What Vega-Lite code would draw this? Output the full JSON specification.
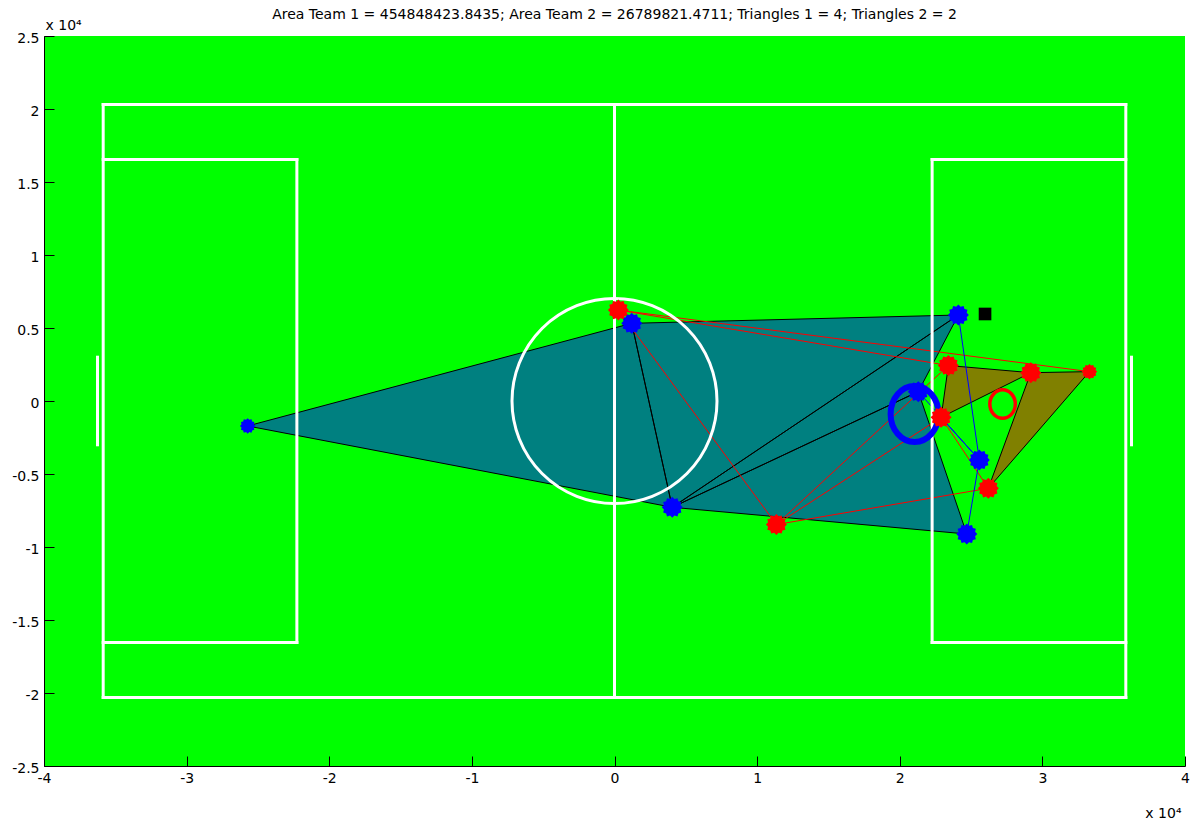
{
  "$schema": "https://vega.github.io/schema/vega-lite/v6.json",
  "width": 1141,
  "height": 730,
  "autosize": {"type": "none"},
  "padding": {"left": 44, "top": 36, "right": 5, "bottom": 58},
  "background": "#ffffff",
  "title": {
    "text": "Area Team 1 = 454848423.8435; Area Team 2 = 26789821.4711; Triangles 1 = 4; Triangles 2 = 2",
    "font": "DejaVu Sans",
    "fontSize": 14,
    "fontWeight": "normal",
    "color": "#000000",
    "anchor": "middle",
    "baseline": "alphabetic",
    "offset": -15
  },
  "datasets": {
    "players": [
      {"id": "B1", "team": "Team 1", "role": "keeper", "x": -25720, "y": -1710},
      {"id": "B2", "team": "Team 1", "role": "outfield", "x": 1210, "y": 5320},
      {"id": "B3", "team": "Team 1", "role": "outfield", "x": 4050, "y": -7280},
      {"id": "B4", "team": "Team 1", "role": "outfield", "x": 24110, "y": 5890},
      {"id": "B5", "team": "Team 1", "role": "outfield", "x": 21300, "y": 640},
      {"id": "B6", "team": "Team 1", "role": "outfield", "x": 25580, "y": -4040},
      {"id": "B7", "team": "Team 1", "role": "outfield", "x": 24700, "y": -9110},
      {"id": "R1", "team": "Team 2", "role": "outfield", "x": 270, "y": 6230},
      {"id": "R2", "team": "Team 2", "role": "outfield", "x": 11350, "y": -8460},
      {"id": "R3", "team": "Team 2", "role": "outfield", "x": 23410, "y": 2430},
      {"id": "R4", "team": "Team 2", "role": "outfield", "x": 22900, "y": -1120},
      {"id": "R5", "team": "Team 2", "role": "outfield", "x": 29190, "y": 1940},
      {"id": "R6", "team": "Team 2", "role": "keeper", "x": 33300, "y": 2010},
      {"id": "R7", "team": "Team 2", "role": "outfield", "x": 26210, "y": -5980}
    ],
    "triangles": [
      {"tri": "T1", "team": "Team 1", "k": 0, "id": "B1"},
      {"tri": "T1", "team": "Team 1", "k": 1, "id": "B2"},
      {"tri": "T1", "team": "Team 1", "k": 2, "id": "B3"},
      {"tri": "T2", "team": "Team 1", "k": 0, "id": "B2"},
      {"tri": "T2", "team": "Team 1", "k": 1, "id": "B4"},
      {"tri": "T2", "team": "Team 1", "k": 2, "id": "B3"},
      {"tri": "T3", "team": "Team 1", "k": 0, "id": "B3"},
      {"tri": "T3", "team": "Team 1", "k": 1, "id": "B4"},
      {"tri": "T3", "team": "Team 1", "k": 2, "id": "B5"},
      {"tri": "T4", "team": "Team 1", "k": 0, "id": "B3"},
      {"tri": "T4", "team": "Team 1", "k": 1, "id": "B5"},
      {"tri": "T4", "team": "Team 1", "k": 2, "id": "B7"},
      {"tri": "U1", "team": "Team 2", "k": 0, "id": "R3"},
      {"tri": "U1", "team": "Team 2", "k": 1, "id": "R5"},
      {"tri": "U1", "team": "Team 2", "k": 2, "id": "R4"},
      {"tri": "U2", "team": "Team 2", "k": 0, "id": "R5"},
      {"tri": "U2", "team": "Team 2", "k": 1, "id": "R6"},
      {"tri": "U2", "team": "Team 2", "k": 2, "id": "R7"}
    ],
    "links": [
      {"link": "L1", "team": "Team 2", "k": 0, "id": "R1"},
      {"link": "L1", "team": "Team 2", "k": 1, "id": "R6"},
      {"link": "L2", "team": "Team 2", "k": 0, "id": "R1"},
      {"link": "L2", "team": "Team 2", "k": 1, "id": "R3"},
      {"link": "L3", "team": "Team 2", "k": 0, "id": "R1"},
      {"link": "L3", "team": "Team 2", "k": 1, "id": "R2"},
      {"link": "L4", "team": "Team 2", "k": 0, "id": "R2"},
      {"link": "L4", "team": "Team 2", "k": 1, "id": "R3"},
      {"link": "L5", "team": "Team 2", "k": 0, "id": "R2"},
      {"link": "L5", "team": "Team 2", "k": 1, "id": "R4"},
      {"link": "L6", "team": "Team 2", "k": 0, "id": "R2"},
      {"link": "L6", "team": "Team 2", "k": 1, "id": "R7"},
      {"link": "L7", "team": "Team 2", "k": 0, "id": "R4"},
      {"link": "L7", "team": "Team 2", "k": 1, "id": "R7"},
      {"link": "L8", "team": "Team 1", "k": 0, "id": "B4"},
      {"link": "L8", "team": "Team 1", "k": 1, "id": "B6"},
      {"link": "L9", "team": "Team 1", "k": 0, "id": "B5"},
      {"link": "L9", "team": "Team 1", "k": 1, "id": "B6"},
      {"link": "L10", "team": "Team 1", "k": 0, "id": "R4"},
      {"link": "L10", "team": "Team 1", "k": 1, "id": "B6"},
      {"link": "L11", "team": "Team 1", "k": 0, "id": "B6"},
      {"link": "L11", "team": "Team 1", "k": 1, "id": "B7"}
    ],
    "pitch": [
      {"x": -35850, "y": 20300, "x2": 35850, "y2": 20300},
      {"x": -35850, "y": -20300, "x2": 35850, "y2": -20300},
      {"x": -35850, "y": -20300, "x2": -35850, "y2": 20300},
      {"x": 35850, "y": -20300, "x2": 35850, "y2": 20300},
      {"x": 0, "y": -20300, "x2": 0, "y2": 20300},
      {"x": -35850, "y": 16540, "x2": -22270, "y2": 16540},
      {"x": -35850, "y": -16540, "x2": -22270, "y2": -16540},
      {"x": -22270, "y": -16540, "x2": -22270, "y2": 16540},
      {"x": 35850, "y": 16540, "x2": 22270, "y2": 16540},
      {"x": 35850, "y": -16540, "x2": 22270, "y2": -16540},
      {"x": 22270, "y": -16540, "x2": 22270, "y2": 16540},
      {"x": -36250, "y": -3000, "x2": -36250, "y2": 3000},
      {"x": 36250, "y": -3000, "x2": 36250, "y2": 3000}
    ],
    "extras": [
      {"kind": "centre", "x": 0, "y": 0},
      {"kind": "ring1", "x": 21040, "y": -890},
      {"kind": "ring2", "x": 27210, "y": -210},
      {"kind": "ball", "x": 25980, "y": 5960}
    ]
  },
  "encoding": {
    "x": {
      "field": "x",
      "type": "quantitative",
      "scale": {"domain": [-40000, 40000], "nice": false, "zero": false},
      "axis": {
        "values": [-40000, -30000, -20000, -10000, 0, 10000, 20000, 30000, 40000],
        "labelExpr": "datum.value / 10000",
        "title": "x 10⁴",
        "titleAngle": 0,
        "titleAlign": "right",
        "titleBaseline": "alphabetic",
        "titleX": 1137,
        "titleY": 51
      }
    },
    "y": {
      "field": "y",
      "type": "quantitative",
      "scale": {"domain": [-25000, 25000], "nice": false, "zero": false},
      "axis": {
        "values": [-25000, -20000, -15000, -10000, -5000, 0, 5000, 10000, 15000, 20000, 25000],
        "labelExpr": "datum.value / 10000",
        "labelOffset": 2,
        "title": "x 10⁴",
        "titleAngle": 0,
        "titleAlign": "left",
        "titleBaseline": "alphabetic",
        "titleX": 1,
        "titleY": -7
      }
    }
  },
  "layer": [
    {
      "data": {"name": "triangles"},
      "transform": [
        {"lookup": "id", "from": {"data": {"name": "players"}, "key": "id", "fields": ["x", "y"]}}
      ],
      "mark": {"type": "line", "interpolate": "linear-closed", "strokeWidth": 0},
      "encoding": {
        "detail": {"field": "tri"},
        "order": {"field": "k"},
        "fill": {
          "field": "team",
          "type": "nominal",
          "scale": {"domain": ["Team 1", "Team 2"], "range": ["#008080", "#808000"]},
          "legend": null
        }
      }
    },
    {
      "data": {"name": "triangles"},
      "transform": [
        {"lookup": "id", "from": {"data": {"name": "players"}, "key": "id", "fields": ["x", "y"]}}
      ],
      "mark": {"type": "line", "interpolate": "linear-closed", "strokeWidth": 1, "color": "#000000"},
      "encoding": {
        "detail": {"field": "tri"},
        "order": {"field": "k"}
      }
    },
    {
      "data": {"name": "links"},
      "transform": [
        {"lookup": "id", "from": {"data": {"name": "players"}, "key": "id", "fields": ["x", "y"]}}
      ],
      "mark": {"type": "line", "strokeWidth": 1},
      "encoding": {
        "detail": {"field": "link"},
        "order": {"field": "k"},
        "color": {
          "field": "team",
          "type": "nominal",
          "scale": {"domain": ["Team 1", "Team 2"], "range": ["#0000FF", "#FF0000"]},
          "legend": null
        }
      }
    },
    {
      "data": {"name": "pitch"},
      "mark": {"type": "rule", "color": "#FFFFFF", "strokeWidth": 3, "strokeCap": "square"},
      "encoding": {
        "x2": {"field": "x2"},
        "y2": {"field": "y2"}
      }
    },
    {
      "data": {"name": "extras"},
      "transform": [{"filter": "datum.kind === 'centre'"}],
      "mark": {"type": "point", "shape": "circle", "filled": false, "color": "#FFFFFF", "strokeWidth": 3, "size": 42025, "opacity": 1}
    },
    {
      "data": {"name": "extras"},
      "transform": [{"filter": "datum.kind === 'ring1'"}],
      "mark": {
        "type": "point",
        "shape": "M-0.857,0A0.857,1,0,1,0,0.857,0A0.857,1,0,1,0,-0.857,0Z",
        "filled": false,
        "color": "#0000FF",
        "strokeWidth": 6,
        "size": 3136,
        "opacity": 1
      }
    },
    {
      "data": {"name": "extras"},
      "transform": [{"filter": "datum.kind === 'ring2'"}],
      "mark": {
        "type": "point",
        "shape": "M-0.895,0A0.895,1,0,1,0,0.895,0A0.895,1,0,1,0,-0.895,0Z",
        "filled": false,
        "color": "#FF0000",
        "strokeWidth": 3.5,
        "size": 812,
        "opacity": 1
      }
    },
    {
      "data": {"name": "extras"},
      "transform": [{"filter": "datum.kind === 'ball'"}],
      "mark": {"type": "point", "shape": "square", "filled": true, "color": "#000000", "size": 160, "opacity": 1}
    },
    {
      "data": {"name": "players"},
      "mark": {
        "type": "point",
        "shape": "M1,0L0.792,0.212L0.866,0.5L0.58,0.58L0.5,0.866L0.212,0.792L0,1L-0.212,0.792L-0.5,0.866L-0.58,0.58L-0.866,0.5L-0.792,0.212L-1,0L-0.792,-0.212L-0.866,-0.5L-0.58,-0.58L-0.5,-0.866L-0.212,-0.792L0,-1L0.212,-0.792L0.5,-0.866L0.58,-0.58L0.866,-0.5L0.792,-0.212Z",
        "filled": true,
        "strokeWidth": 0,
        "opacity": 1
      },
      "encoding": {
        "color": {
          "field": "team",
          "type": "nominal",
          "scale": {"domain": ["Team 1", "Team 2"], "range": ["#0000FF", "#FF0000"]},
          "legend": null
        },
        "size": {
          "field": "role",
          "type": "nominal",
          "scale": {"domain": ["outfield", "keeper"], "range": [441, 240]},
          "legend": null
        }
      }
    }
  ],
  "config": {
    "font": "DejaVu Sans",
    "view": {"fill": "#00FF00", "stroke": null},
    "axis": {
      "grid": false,
      "domainColor": "#000000",
      "domainWidth": 1,
      "tickColor": "#000000",
      "tickWidth": 1,
      "tickSize": -10,
      "labelPadding": 15,
      "labelFont": "DejaVu Sans",
      "labelFontSize": 14,
      "labelColor": "#000000",
      "labelFlush": false,
      "labelOverlap": false,
      "labelBound": false,
      "titleFont": "DejaVu Sans",
      "titleFontSize": 14,
      "titleFontWeight": "normal",
      "titleColor": "#000000"
    }
  }
}
